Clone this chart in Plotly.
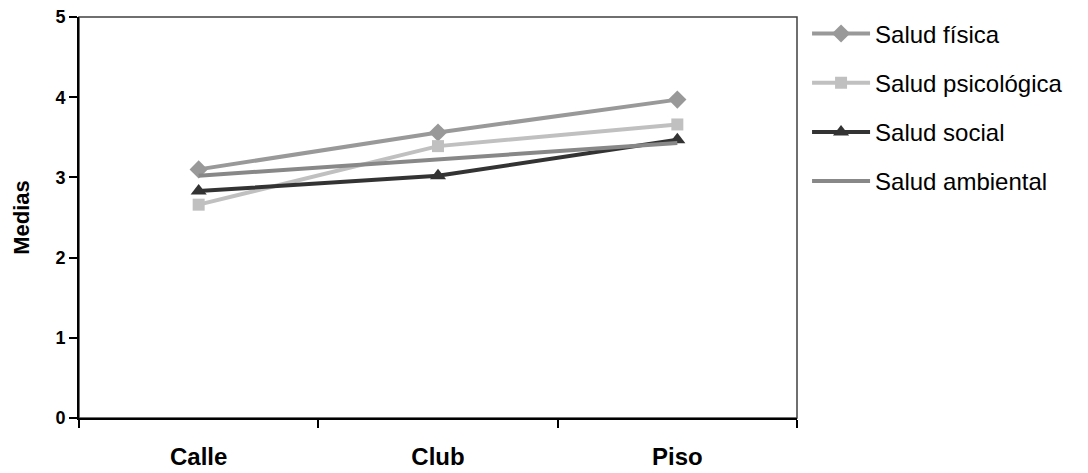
import plotly.graph_objects as go

categories = ["Calle", "Club", "Piso"]
fisica = [3.10, 3.56, 3.97]
psicologica = [2.66, 3.39, 3.66]
social = [2.83, 3.02, 3.47]
ambiental = [3.02, 3.22, 3.43]
series_names = ["Salud física", "Salud psicológica", "Salud social", "Salud ambiental"]
y_ticks = [0, 1, 2, 3, 4, 5]

FONT = "Liberation Sans, Arial, sans-serif"

fig = go.Figure()
styles = [
    ("#999999", "diamond", 14),
    ("#c0c0c0", "square", 12),
    ("#333333", "triangle-up", 14),
    ("#888888", None, 0),
]
for i, vals in enumerate([fisica, psicologica, social, ambiental]):
    col, sym, sz = styles[i]
    kw = {}
    if sym:
        kw["marker"] = dict(symbol=sym, size=sz, color=col)
    fig.add_trace(go.Scatter(
        x=categories, y=vals, name=series_names[i],
        mode="lines+markers" if sym else "lines",
        line=dict(color=col, width=4),
        legendgroup=f"g{i}", **kw,
    ))

fig.add_shape(type="rect", xref="paper", yref="paper", x0=0, y0=0, x1=1, y1=1,
              line=dict(color="#404040", width=1.5), layer="below")

# page body has an 8px default margin, so the figure is 8px smaller and offset
fig.update_layout(
    width=1080, height=465,
    margin=dict(l=71, r=291, t=9, b=55, autoexpand=False),
    paper_bgcolor="white", plot_bgcolor="white",
    font=dict(family=FONT, color="black"),
    showlegend=True,
    legend=dict(x=1.014, y=1.014, xanchor="left", yanchor="top",
                font=dict(size=24, family=FONT), itemwidth=58, tracegroupgap=15,
                traceorder="grouped", bgcolor="rgba(0,0,0,0)"),
    xaxis=dict(type="category", categoryorder="array", categoryarray=categories,
               range=[-0.5, 2.5], showline=True, linecolor="black", linewidth=2,
               ticks="outside", tickson="boundaries", ticklen=8, tickcolor="black", tickwidth=1.5,
               showgrid=False, zeroline=False, automargin=False,
               tickfont=dict(size=24, family=FONT, weight="bold"),
               ticklabelstandoff=16),
    yaxis=dict(range=[0, 5], tickvals=y_ticks, showline=True, linecolor="black", linewidth=2,
               ticks="outside", ticklen=8, tickcolor="black", tickwidth=1.5,
               showgrid=False, zeroline=False, automargin=False, ticklabeloverflow="allow",
               tickfont=dict(size=18, family=FONT, weight="bold"),
               title=dict(text="Medias", font=dict(size=22, family=FONT, weight="bold"), standoff=20)),
)

fig.write_html("out.html")
